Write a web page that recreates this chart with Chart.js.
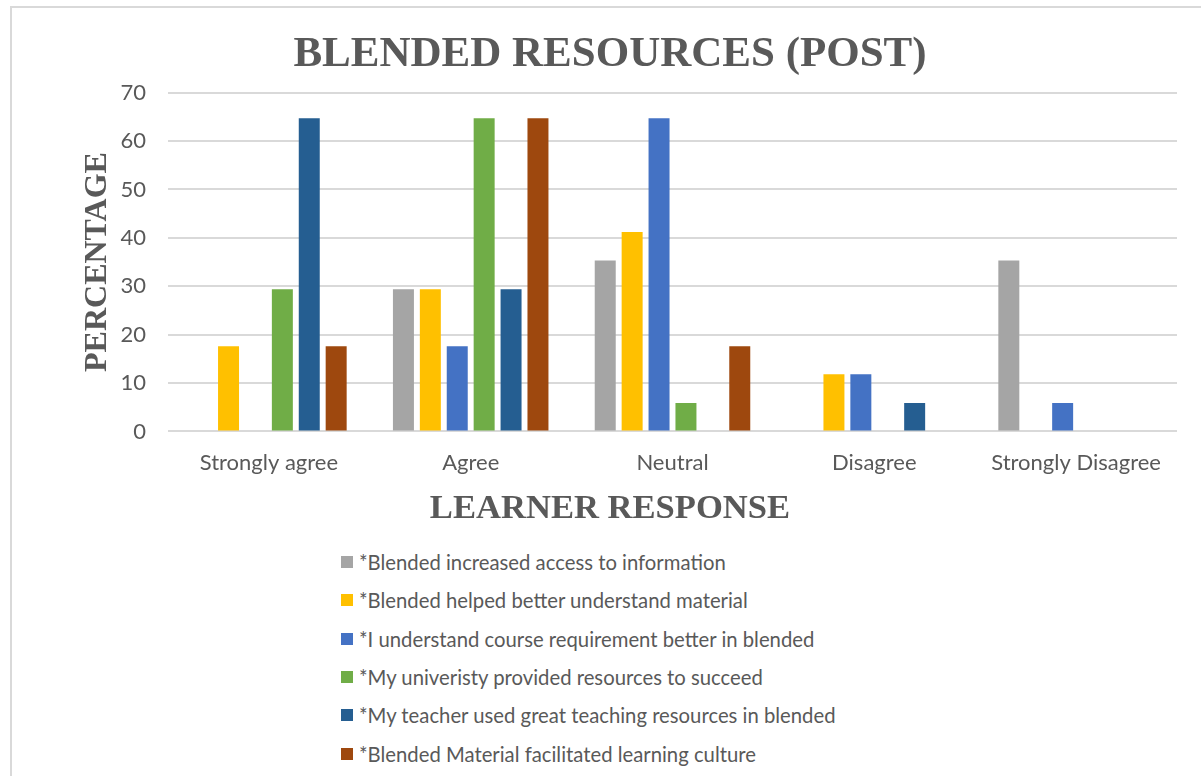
<!DOCTYPE html>
<html>
<head>
<meta charset="utf-8">
<script src="https://cdn.jsdelivr.net/npm/chart.js@4"></script>
<style>
  html, body { margin: 0; padding: 0; background: #fff; width: 1201px; height: 776px; overflow: hidden; }
  #frame { position: absolute; left: 10px; top: 6px; width: 1220px; height: 800px; border: 2px solid #d9d9d9; box-sizing: border-box; }
  #wrap { position: absolute; left: 0; top: 0; width: 1201px; height: 540px; }
  #legend { position: absolute; left: 341px; top: 543px; font-family: Lato, "Open Sans", sans-serif; font-size: 20.3px; color: #595959; }
  .row { height: 38.3px; display: flex; align-items: center; white-space: nowrap; }
  .sw { width: 12px; height: 12px; margin-right: 6px; flex: none; }
</style>
</head>
<body>
<div id="frame"></div>
<div id="wrap"><canvas id="chart" width="1201" height="540"></canvas></div>
<div id="legend"></div>
<script>
(function(){
  'use strict';

  var categories = ['Strongly agree', 'Agree', 'Neutral', 'Disagree', 'Strongly Disagree'];

  var seriesNames = [
    '*Blended increased access to information',
    '*Blended helped better understand material',
    '*I understand course requirement better in blended',
    '*My univeristy provided resources to succeed',
    '*My teacher used great teaching resources in blended',
    '*Blended Material facilitated learning culture'
  ];
  var seriesColors = ['#A5A5A5', '#FFC000', '#4472C4', '#70AD47', '#255E91', '#9E480E'];

  // values per series, in category order
  var accessInfo    = [0, 29.4, 35.3, 0, 35.3];
  var understandMat = [17.6, 29.4, 41.2, 11.8, 0];
  var courseReq     = [0, 17.6, 64.7, 11.8, 5.9];
  var uniResources  = [29.4, 64.7, 5.9, 0, 0];
  var teacherRes    = [64.7, 29.4, 0, 5.9, 0];
  var cultureMat    = [17.6, 64.7, 17.6, 0, 0];
  var seriesValues = [accessInfo, understandMat, courseReq, uniResources, teacherRes, cultureMat];

  var yTicks = [0, 10, 20, 30, 40, 50, 60, 70];

  var textGray = '#595959';
  var serif = '"Liberation Serif", "Times New Roman", serif';
  var sans = 'Lato, "Open Sans", sans-serif';

  var datasets = seriesNames.map(function(name, i){
    return {
      label: name,
      data: seriesValues[i],
      backgroundColor: seriesColors[i],
      borderWidth: 0,
      categoryPercentage: 0.8,
      barPercentage: 0.78
    };
  });

  new Chart(document.getElementById('chart').getContext('2d'), {
    type: 'bar',
    data: { labels: categories, datasets: datasets },
    options: {
      responsive: false,
      animation: false,
      layout: { padding: { top: 10, left: 43, right: 24, bottom: 0 } },
      plugins: {
        legend: { display: false },
        tooltip: { enabled: false },
        title: {
          display: true,
          text: 'BLENDED RESOURCES (POST)',
          color: textGray,
          font: { family: serif, size: 43, weight: 'bold' },
          padding: { top: 19, bottom: 12 }
        },
        // x axis caption, centred on the whole chart like the original
        subtitle: {
          display: true,
          position: 'bottom',
          text: 'LEARNER RESPONSE',
          color: textGray,
          font: { family: serif, size: 34.6, weight: 'bold' },
          padding: { top: 12, bottom: 10 }
        }
      },
      scales: {
        x: {
          grid: { display: false, drawTicks: false },
          border: { display: false },
          ticks: { color: textGray, font: { family: sans, size: 22 }, padding: 18, maxRotation: 0 },
          afterFit: function(axis){ axis.height = 45; }
        },
        y: {
          min: yTicks[0],
          max: yTicks[yTicks.length - 1],
          afterBuildTicks: function(axis){ axis.ticks = yTicks.map(function(v){ return { value: v }; }); },
          grid: { color: '#d9d9d9', lineWidth: 2, drawTicks: false },
          border: { display: false },
          ticks: { color: textGray, font: { family: sans, size: 22 }, padding: 22 },
          title: {
            display: true,
            text: 'PERCENTAGE',
            color: textGray,
            font: { family: serif, size: 32, weight: 'bold' },
            padding: { top: 36, bottom: 0 }
          },
          afterFit: function(axis){ axis.width = 125; }
        }
      }
    }
  });

  // legend as a plain column under the plot
  var legend = document.getElementById('legend');
  seriesNames.forEach(function(name, i){
    var row = document.createElement('div');
    row.className = 'row';
    var sw = document.createElement('span');
    sw.className = 'sw';
    sw.style.background = seriesColors[i];
    var txt = document.createElement('span');
    txt.textContent = name;
    row.appendChild(sw);
    row.appendChild(txt);
    legend.appendChild(row);
  });
})();
</script>
</body>
</html>
